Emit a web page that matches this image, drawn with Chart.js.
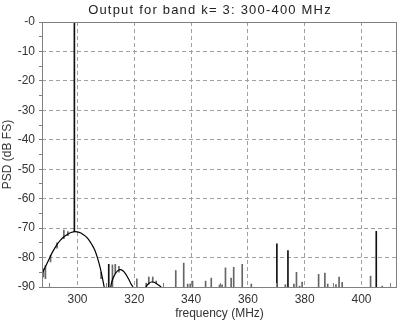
<!DOCTYPE html>
<html>
<head>
<meta charset="utf-8">
<script src="https://cdn.jsdelivr.net/npm/chart.js@4/dist/chart.umd.min.js"></script>
<style>
  html, body { margin: 0; padding: 0; background: #fff; }
  #wrap { width: 399px; height: 321px; }
</style>
</head>
<body>
<div id="wrap"><canvas id="psd"></canvas></div>
<script>
const titleText = 'Output for band k= 3: 300-400 MHz';

// smooth spectral lobes (null = gap between lobes)
const lobeFreq = [287.5, 288, 289, 290, 291, 292, 293, 294, 295, 296, 297, 298, 299, 300, 301, 302, 303, 304, 305, 306, 307, 308, 309, 309.4,
  310.5, 311.7, 312, 313, 314, 315, 316, 317, 318, 319, 319.6,
  322, 324, 325, 326, 327, 328, 329, 329.5];
const lobeDb = [-85.5, -84.5, -82.5, -80.5, -78.5, -76.8, -75.3, -74.1, -73.1, -72.4, -71.8, -71.4, -71.2, -71.3, -71.6, -72.2, -72.9, -74.0, -75.5, -77.3, -80.0, -83.5, -88.0, -90,
  null, -90, -88.5, -86, -84.6, -84.1, -84.5, -85.6, -87.3, -89.2, -90,
  null, -90, -88.9, -88.3, -88.4, -89.0, -89.7, -90];

// strong tones
const toneFreq = [298.9, 311.0, 370.2, 374.1, 405.2];
const toneLow = [-71.2, -90, -90, -90, -90];
const toneHigh = [0, -82.3, -75.3, -77.6, -71.1];

// weak spurs
const spurFreq = [288.0, 288.7, 290.5, 292.8, 295.2, 296.6, 308.3, 312.3, 313.3, 314.6,
  320.9, 324.2, 325.1, 326.5, 327.7, 334.6, 337.4, 338.8, 339.7, 340.5,
  345.1, 347.1, 350.0, 350.9, 352.1, 354.1, 355.0, 358.0, 361.2,
  373.2, 376.2, 377.1, 378.2, 379.1, 384.9, 387.1, 388.1, 391.0, 392.1, 393.2, 403.2, 407.3];
const spurLow = [-86.6, -87.2, -81.5, -76.8, -73.6, -72.6, -87.2, -90, -85.5, -85,
  -90, -90, -89, -88.3, -88.6, -90, -90, -90, -90, -90,
  -90, -90, -90, -90, -90, -90, -90, -90, -90,
  -90, -90, -90, -90, -90, -90, -90, -90, -90, -90, -90, -90, -90];
const spurHigh = [-83.8, -82.7, -79.3, -75.0, -70.7, -71.2, -85.0, -82.5, -82.3, -83.0,
  -87.2, -88.7, -86.6, -86.6, -88.0, -84.4, -81.9, -89.0, -89.0, -88.0,
  -88.0, -87.0, -89.3, -89.3, -83.5, -87.0, -83.3, -82.3, -89.0,
  -89.2, -89.0, -85.0, -89.7, -88.3, -85.7, -85.3, -89.0, -89.2, -86.6, -88.4, -86.3, -89.7];

const xTicks = [290, 300, 310, 320, 330, 340, 350, 360, 370, 380, 390, 400, 410];

const FONT = '"Liberation Sans", Arial, Helvetica, sans-serif';
const GRID = '#a0a0a0';
const AXIS = '#808080';

const framePlugin = {
  id: 'frame',
  afterDraw(chart) {
    const { ctx, chartArea: a, scales } = chart;
    ctx.save();
    // box
    ctx.strokeStyle = AXIS;
    ctx.lineWidth = 1;
    ctx.strokeRect(a.left + 0.5, a.top + 0.5, a.right - a.left - 1, a.bottom - a.top);
    // inward minor ticks on the frequency axis
    xTicks.forEach(v => {
      if (v % 20 === 0) return;
      const px = Math.round(scales.x.getPixelForValue(v)) + 0.5;
      ctx.beginPath();
      ctx.moveTo(px, a.bottom);
      ctx.lineTo(px, a.bottom - 4);
      ctx.stroke();
    });
    // title
    ctx.fillStyle = '#222';
    ctx.font = '13px ' + FONT;
    ctx.letterSpacing = '1.2px';
    ctx.textAlign = 'center';
    ctx.textBaseline = 'alphabetic';
    ctx.fillText(titleText, 210, 13.5);
    ctx.restore();
  }
};

new Chart(document.getElementById('psd'), {
  data: {
    datasets: [
      {
        type: 'bar',
        data: spurFreq.map((f, i) => ({ x: f, y: [spurLow[i], spurHigh[i]] })),
        backgroundColor: '#666',
        barThickness: 1,
        grouped: false,
        order: 3
      },
      {
        type: 'bar',
        data: toneFreq.map((f, i) => ({ x: f, y: [toneLow[i], toneHigh[i]] })),
        backgroundColor: '#111',
        barThickness: 1,
        grouped: false,
        order: 2
      },
      {
        type: 'line',
        data: lobeFreq.map((f, i) => ({ x: f, y: lobeDb[i] })),
        borderColor: '#000',
        borderWidth: 1.2,
        pointRadius: 0,
        cubicInterpolationMode: 'monotone',
        spanGaps: false,
        order: 1
      }
    ]
  },
  options: {
    responsive: true,
    maintainAspectRatio: false,
    animation: false,
    events: [],
    layout: { padding: { top: 22, right: 2, left: 0, bottom: 0 } },
    plugins: {
      legend: { display: false },
      tooltip: { enabled: false }
    },
    scales: {
      x: {
        type: 'linear',
        min: 287.5,
        max: 412.5,
        offset: false,
        afterBuildTicks: scale => { scale.ticks = xTicks.map(v => ({ value: v })); },
        afterFit: scale => { scale.height = 34; },
        ticks: {
          autoSkip: false,
          maxRotation: 0,
          padding: 5,
          color: '#333',
          font: { family: FONT, size: 12 },
          callback: v => (v % 20 === 0 ? String(v) : '')
        },
        grid: {
          offset: false,
          drawTicks: false,
          color: c => (c.tick && c.tick.value % 20 === 0 ? GRID : 'rgba(0,0,0,0)'),
          lineWidth: 1
        },
        border: { display: false, dash: [4, 3] },
        title: {
          display: true,
          text: 'frequency (MHz)',
          color: '#333',
          font: { family: FONT, size: 12 },
          padding: { top: 0, bottom: 0 }
        }
      },
      y: {
        type: 'linear',
        min: -90,
        max: 0,
        afterFit: scale => { scale.width = 42; },
        ticks: {
          stepSize: 5,
          autoSkip: false,
          padding: 4,
          color: '#333',
          font: { family: FONT, size: 12 },
          callback: v => (v === 0 ? '-0' : (v % 10 === 0 ? String(v) : ''))
        },
        grid: {
          drawTicks: true,
          tickLength: 3,
          tickColor: AXIS,
          color: c => (c.tick && c.tick.value % 10 === 0 && c.tick.value > -90 && c.tick.value < 0 ? GRID : 'rgba(0,0,0,0)'),
          lineWidth: 1
        },
        border: { display: false, dash: [4, 3] },
        title: {
          display: true,
          text: 'PSD (dB FS)',
          color: '#333',
          font: { family: FONT, size: 12 },
          padding: { top: 0, bottom: 0 }
        }
      }
    }
  },
  plugins: [framePlugin]
});
</script>
</body>
</html>
